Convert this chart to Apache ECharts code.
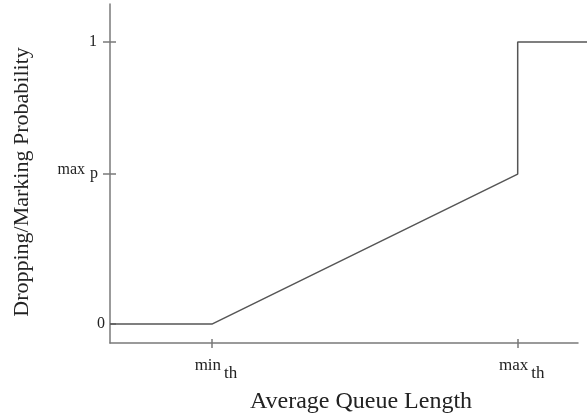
<!DOCTYPE html>
<html>
<head>
<meta charset="utf-8">
<script src="https://cdn.jsdelivr.net/npm/echarts@6/dist/echarts.min.js"></script>
<style>
  html, body { margin: 0; padding: 0; background: #fff; }
  #chart { width: 587px; height: 416px; }
</style>
</head>
<body>
<div id="chart"></div>
<script>
// RED drop probability curve
const queueLen = [0, 1, 4, 4, 4.68];
const dropProb = [0, 0, 0.532, 1, 1];
// tick positions and labels
const xTicks = [1, 4];
const xTickLabels = ['{a|min}{b|th}', '{a|max}{b|th}'];
const yTicks = [0, 0.532, 1];
const yOuterTicks = [0.532, 1];
const yTickLabels = ['{z|0}', '{m|max}{p|p}', '{n|1}'];

const font = 'Liberation Serif';
const axisColor = '#7a7a7a';
const xMin = 0, xMaxAxis = 4.59, xMaxPlot = 4.68;
const yMin = -0.067, yMax = 1.135;

const rich = {
  a: { fontFamily: font, fontSize: 17, color: '#222', lineHeight: 17, verticalAlign: 'top', padding: [0, 0, 0, 8] },
  b: { fontFamily: font, fontSize: 17, color: '#222', lineHeight: 25, verticalAlign: 'bottom', padding: [0, 0, 0, 3] },
  m: { fontFamily: font, fontSize: 16, color: '#222', lineHeight: 16, verticalAlign: 'top' },
  p: { fontFamily: font, fontSize: 16, color: '#222', lineHeight: 24, verticalAlign: 'bottom', padding: [0, 7, 4, 5] },
  n: { fontFamily: font, fontSize: 16, color: '#222', padding: [0, 8, 0, 0] },
  z: { fontFamily: font, fontSize: 16, color: '#222' }
};

let myChart = echarts.init(document.getElementById('chart'));

function labelFor(list, labels) {
  return function (v) {
    for (let i = 0; i < list.length; i++) {
      if (Math.abs(list[i] - v) < 1e-6) return labels[i];
    }
    return '';
  };
}

let option = {
  animation: false,
  grid: [
    // axes frame
    { left: 110, top: 4, right: 9, bottom: 73, outerBoundsMode: 'none' },
    // plot area, the curve runs on to the right edge past the axis end
    { left: 110, top: 4, right: 0, bottom: 73, outerBoundsMode: 'none' }
  ],
  xAxis: [
    {
      gridIndex: 0, type: 'value', min: xMin, max: xMaxAxis,
      name: 'Average Queue Length',
      nameLocation: 'middle', nameGap: 47,
      nameTextStyle: { fontFamily: font, fontSize: 24, color: '#222', padding: [0, 0, 0, 34] },
      axisLine: { show: true, onZero: false, lineStyle: { color: axisColor, width: 1.5 } },
      axisTick: { show: true, length: 5, customValues: xTicks, lineStyle: { color: axisColor, width: 1.5 } },
      axisLabel: { customValues: xTicks, margin: 14, formatter: labelFor(xTicks, xTickLabels), rich: rich },
      splitLine: { show: false }
    },
    {
      // inner half of the crossing ticks
      gridIndex: 0, type: 'value', min: xMin, max: xMaxAxis, position: 'bottom',
      axisLine: { show: false, onZero: false },
      axisTick: { show: true, inside: true, length: 4, customValues: xTicks, lineStyle: { color: axisColor, width: 1.5 } },
      axisLabel: { show: false },
      splitLine: { show: false }
    },
    {
      gridIndex: 1, type: 'value', min: xMin, max: xMaxPlot, show: false
    }
  ],
  yAxis: [
    {
      gridIndex: 0, type: 'value', min: yMin, max: yMax,
      name: 'Dropping/Marking Probability',
      nameLocation: 'middle', nameGap: 77,
      nameTextStyle: { fontFamily: font, fontSize: 22, color: '#222', padding: [0, 17, 0, 0] },
      axisLine: { show: true, onZero: false, lineStyle: { color: axisColor, width: 1.5 } },
      axisTick: { show: true, length: 7, customValues: yOuterTicks, lineStyle: { color: axisColor, width: 1.5 } },
      axisLabel: { customValues: yTicks, margin: 5, formatter: labelFor(yTicks, yTickLabels), rich: rich },
      splitLine: { show: false }
    },
    {
      gridIndex: 0, type: 'value', min: yMin, max: yMax, position: 'left',
      axisLine: { show: false, onZero: false },
      axisTick: { show: true, inside: true, length: 6, customValues: yTicks, lineStyle: { color: axisColor, width: 1.5 } },
      axisLabel: { show: false },
      splitLine: { show: false }
    },
    {
      gridIndex: 1, type: 'value', min: yMin, max: yMax, show: false
    }
  ],
  series: [
    {
      type: 'line',
      xAxisIndex: 2,
      yAxisIndex: 2,
      clip: false,
      symbol: 'none',
      data: queueLen.map((x, i) => [x, dropProb[i]]),
      lineStyle: { color: '#555', width: 1.5 }
    }
  ]
};

myChart.setOption(option, true);
</script>
</body>
</html>
